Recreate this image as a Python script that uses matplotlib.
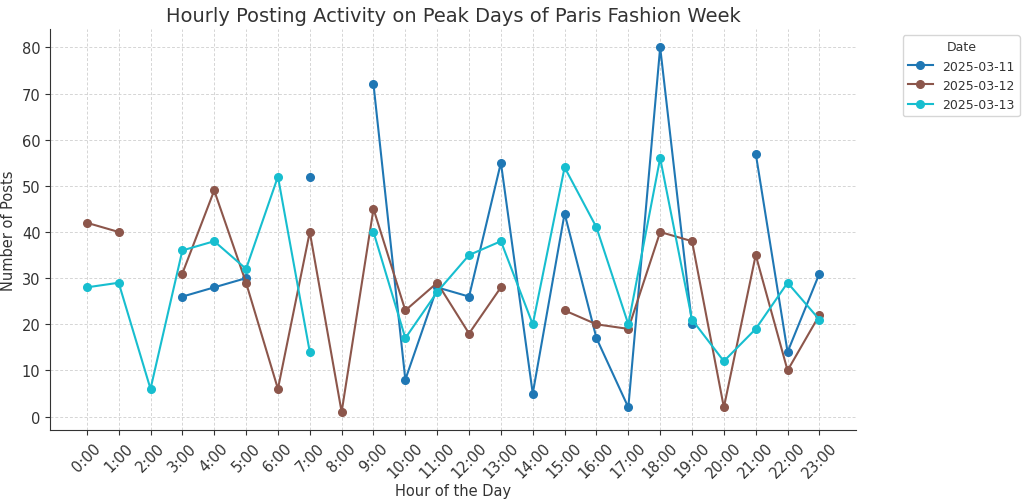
import matplotlib
matplotlib.use("Agg")
import matplotlib.pyplot as plt
import numpy as np

nan = np.nan
hours = [f"{h}:00" for h in range(24)]
dates = ["2025-03-11", "2025-03-12", "2025-03-13"]
posts_0311 = [nan, nan, nan, 26, 28, 30, nan, 52, nan, 72, 8, 28,
              26, 55, 5, 44, 17, 2, 80, 20, nan, 57, 14, 31]
posts_0312 = [42, 40, nan, 31, 49, 29, 6, 40, 1, 45, 23, 29,
              18, 28, nan, 23, 20, 19, 40, 38, 2, 35, 10, 22]
posts_0313 = [28, 29, 6, 36, 38, 32, 52, 14, nan, 40, 17, 27,
              35, 38, 20, 54, 41, 20, 56, 21, 12, 19, 29, 21]
colors = ["#1f77b4", "#8c564b", "#17becf"]

plt.rcParams['text.color'] = '#333333'
plt.rcParams['axes.labelcolor'] = '#333333'
plt.rcParams['xtick.color'] = '#333333'
plt.rcParams['ytick.color'] = '#333333'

fig, ax = plt.subplots(figsize=(10.24, 5.02), dpi=100)
x = np.arange(len(hours))
for d, vals, c in zip(dates, [posts_0311, posts_0312, posts_0313], colors):
    ax.plot(x, vals, marker='o', markersize=5.5, linewidth=1.5, color=c, label=d)

ax.set_xticks(x)
ax.set_xticklabels(hours, rotation=45, fontsize=10.5)
ax.tick_params(axis='y', labelsize=10.5)
ax.set_title('Hourly Posting Activity on Peak Days of Paris Fashion Week', fontsize=14)
ax.set_xlabel('Hour of the Day', fontsize=10.5, labelpad=2)
ax.set_ylabel('Number of Posts', fontsize=10.5)
ax.grid(True, linestyle=(0, (3, 2)), color='#d5d5d5', linewidth=0.7)
ax.spines['top'].set_visible(False)
ax.spines['right'].set_visible(False)
ax.spines['left'].set_color('#333333')
ax.spines['bottom'].set_color('#333333')
ax.legend(title='Date', bbox_to_anchor=(1.05, 1), loc='upper left',
          fontsize=9, title_fontsize=9)
fig.subplots_adjust(left=0.049, right=0.836, top=0.940, bottom=0.141)
plt.savefig('out.png')
